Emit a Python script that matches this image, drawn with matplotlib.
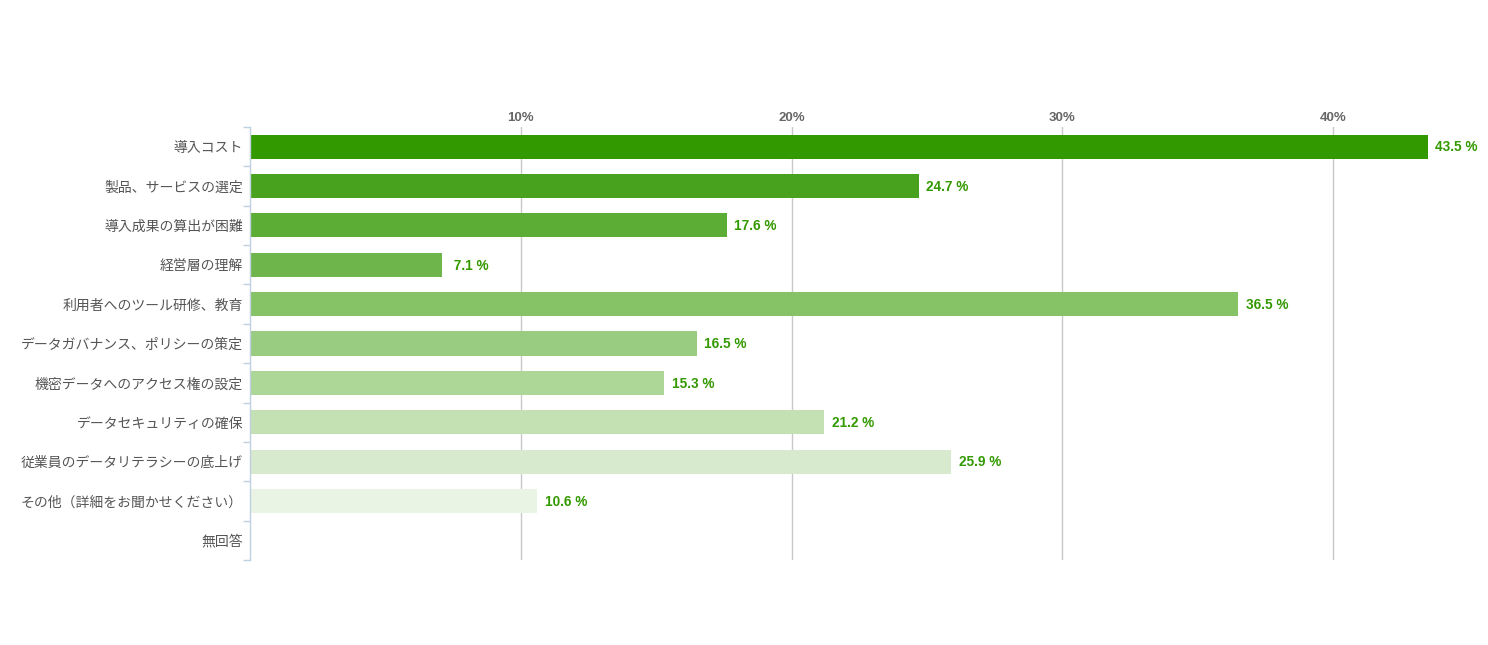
import matplotlib
matplotlib.use("Agg")
import matplotlib.pyplot as plt
import numpy as np

categories = [
    "導入コスト",
    "製品、サービスの選定",
    "導入成果の算出が困難",
    "経営層の理解",
    "利用者へのツール研修、教育",
    "データガバナンス、ポリシーの策定",
    "機密データへのアクセス権の設定",
    "データセキュリティの確保",
    "従業員のデータリテラシーの底上げ",
    "その他（詳細をお聞かせください）",
    "無回答",
]
values = [43.5, 24.7, 17.6, 7.1, 36.5, 16.5, 15.3, 21.2, 25.9, 10.6, None]
tick_values = [10, 20, 30, 40]
tick_labels = ["10%", "20%", "30%", "40%"]

bar_colors = ["#339900", "#48a21e", "#5bad36", "#6eb64b", "#86c266",
              "#99cb80", "#acd797", "#c3e1b3", "#d8eacd", "#eaf4e5", "#f5faf2"]

W, H = 1488, 645
fig = plt.figure(figsize=(W / 100, H / 100), dpi=100)
left_px, right_px, top_px, bot_px = 250, 1460, 127, 560
ax = fig.add_axes([left_px / W, 1 - bot_px / H, (right_px - left_px) / W, (bot_px - top_px) / H])

px_per_pct = (1333 - 250) / 40.0
ax.set_xlim(0, (right_px - left_px) / px_per_pct)
n = len(categories)
ax.set_ylim(n - 0.5, -0.5)

y = np.arange(n)
for i, v in enumerate(values):
    if v is None:
        continue
    ax.barh(i, v, height=0.61, color=bar_colors[i], zorder=2)
    ax.text(v + 0.28, i + 0.02, f"{v:4.1f} %", va="center", ha="left",
            color="#339900", fontsize=9.8, fontweight="bold",
            family=["Liberation Sans", "DejaVu Sans"], zorder=3)

# grid
for t in tick_values:
    ax.axvline(t, color="#c8c8c8", lw=1, zorder=1)

ax.xaxis.tick_top()
ax.set_xticks(tick_values)
ax.set_xticklabels(tick_labels, fontsize=9.5, fontweight="bold", color="#666666",
                   family=["Liberation Sans", "DejaVu Sans"])
ax.tick_params(axis="x", length=0, pad=2)

ax.set_yticks(y)
ax.set_yticklabels(categories, fontsize=10, color="#555555",
                   family=["Noto Sans CJK JP", "DejaVu Sans"])
ax.tick_params(axis="y", length=0, pad=5)
# boundary tick marks on the left
ax.set_yticks(np.arange(n + 1) - 0.5, minor=True)
ax.tick_params(axis="y", which="minor", length=5, color="#c0d0e0", width=1)

for s in ["top", "right", "bottom"]:
    ax.spines[s].set_visible(False)
ax.spines["left"].set_color("#c0d0e0")
ax.spines["left"].set_linewidth(1)

fig.savefig("out.png", dpi=100, facecolor="white")
